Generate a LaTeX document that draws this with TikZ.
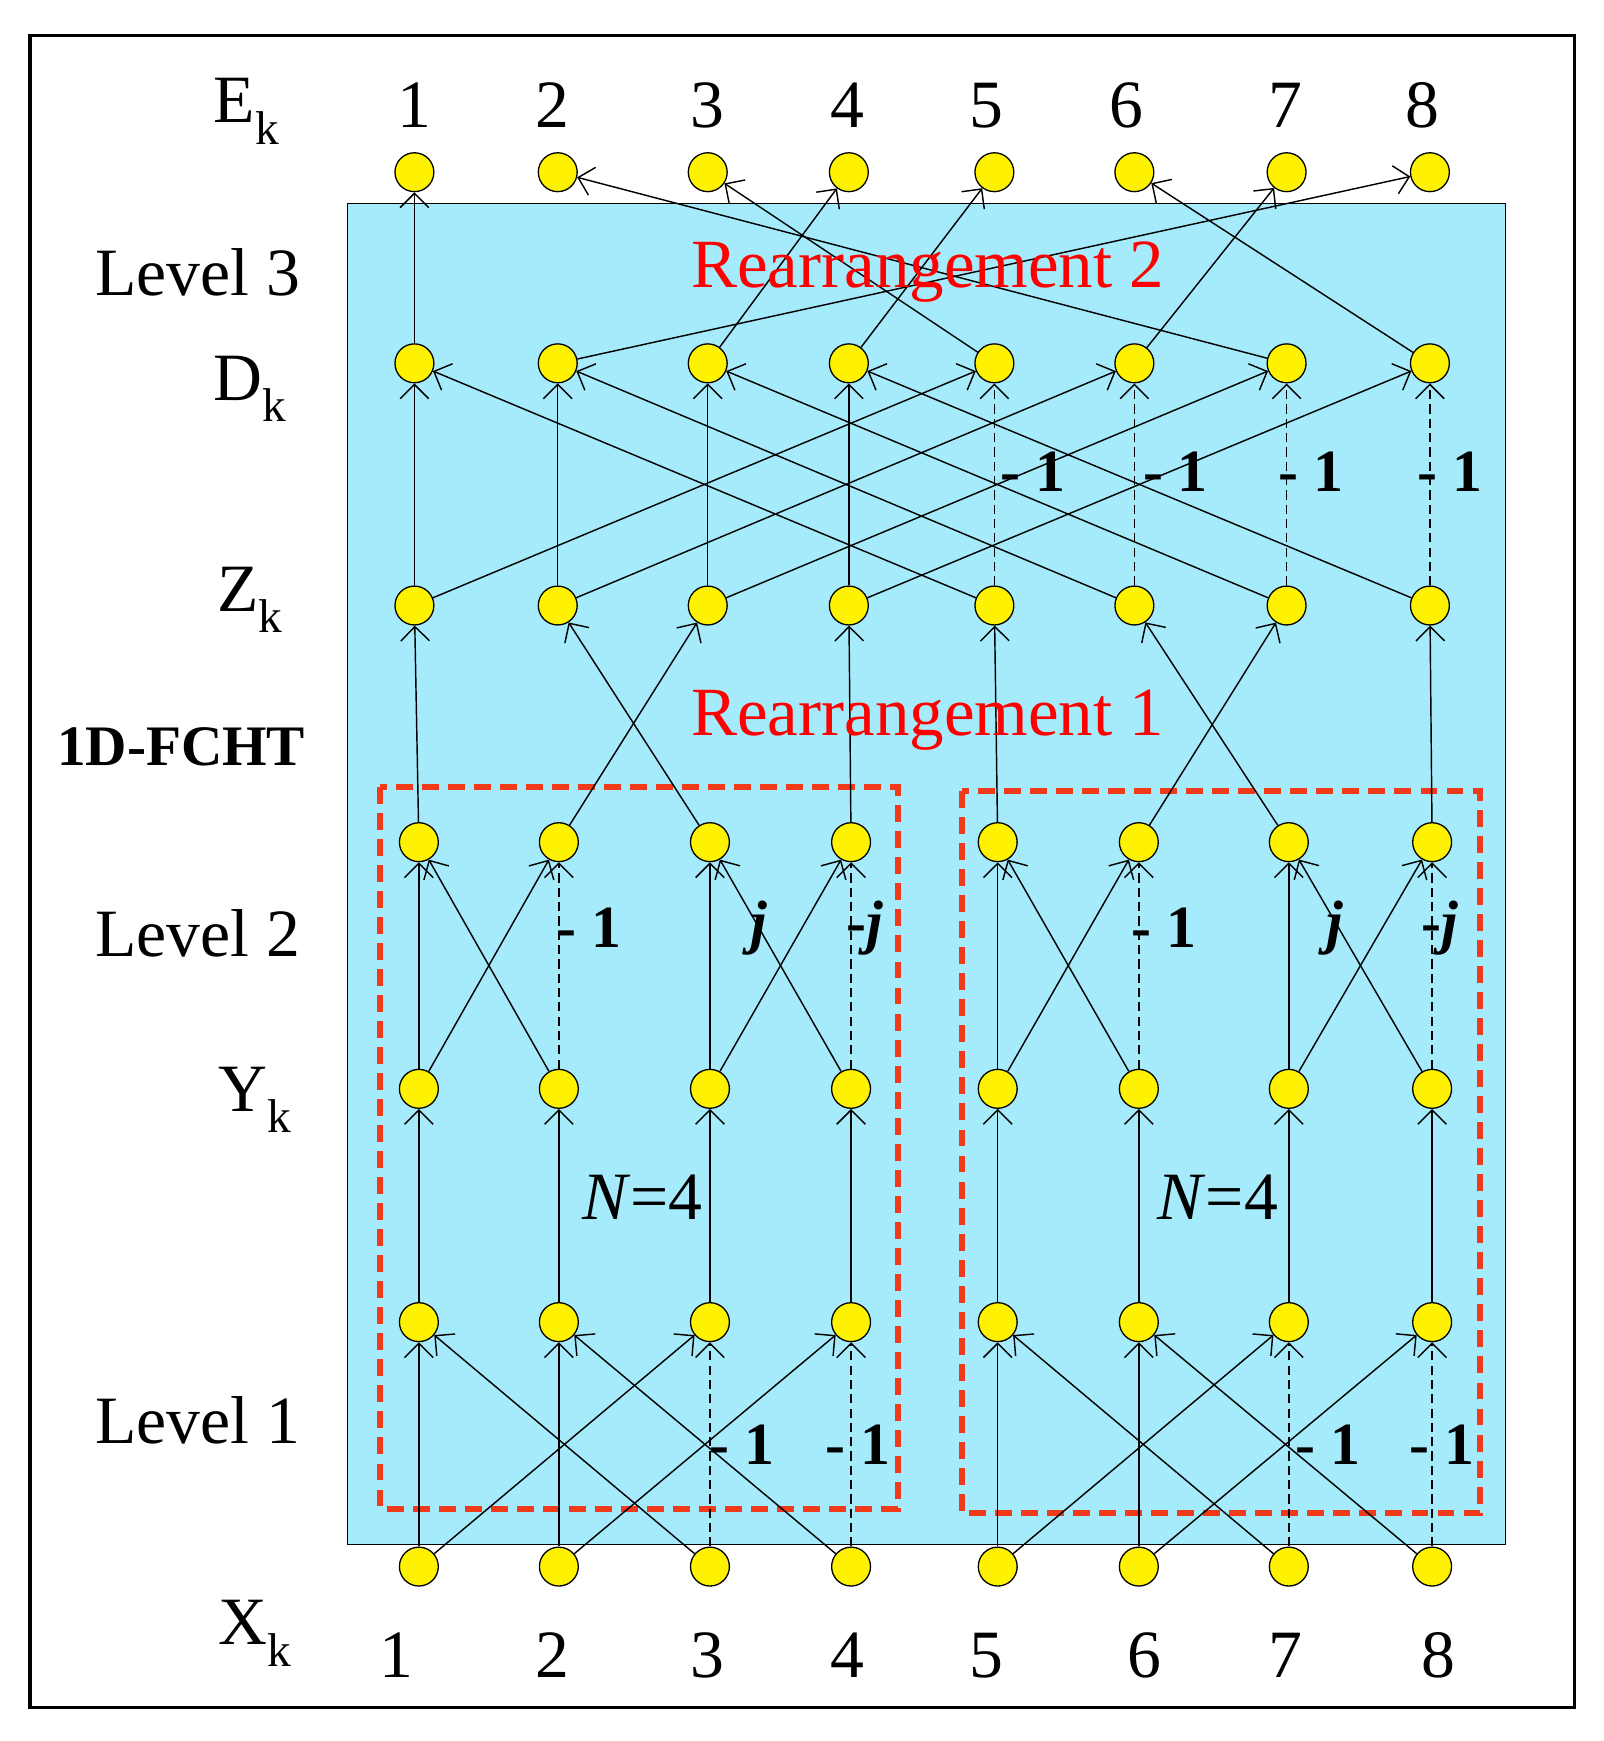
\documentclass[tikz,border=0pt]{standalone}
\usepackage{fontspec}
\setmainfont{Liberation Serif}
\usetikzlibrary{arrows.meta}
\definecolor{bluebg}{HTML}{A6EBFB}
\definecolor{redd}{HTML}{F03A1A}
\definecolor{nodey}{HTML}{FFF200}
\begin{document}
\begin{tikzpicture}[x=0.03cm,y=-0.03cm,
  pt/.style={circle,draw=black,fill=nodey,line width=1pt,inner sep=0pt,minimum size=1.05cm},
  ar/.style={line width=1.1pt,-{Straight Barb[length=11pt,width=22pt,line width=1.1pt]}},
  da/.style={ar,dash pattern=on 7pt off 4pt},
  lab/.style={font=\fontsize{52}{56}\selectfont},
  el/.style={font=\fontsize{46}{50}\selectfont\bfseries},
  rt/.style={font=\fontsize{53}{57}\selectfont,text=red}]
\useasboundingbox (0,0) rectangle (1443,1567);
\draw[line width=2.5pt] (27,32) rectangle (1417,1537);
\draw[fill=bluebg,line width=1pt] (313,183) rectangle (1355,1390);
\draw[redd,line width=4.5pt,dash pattern=on 13pt off 7pt] (342,708) rectangle (808,1358);
\draw[redd,line width=4.5pt,dash pattern=on 13pt off 7pt] (866,712) rectangle (1332,1362);
% nodes
\foreach \x [count=\i] in {373,502,637,764,895,1021,1158,1287}{
  \node[pt] (e\i) at (\x,155) {};
  \node[pt] (d\i) at (\x,327) {};
  \node[pt] (z\i) at (\x,545) {};
}
\foreach \x [count=\i] in {377,503,639,766,898,1025,1160,1289}{
  \node[pt] (u\i) at (\x,758) {};
  \node[pt] (y\i) at (\x,980) {};
  \node[pt] (v\i) at (\x,1190) {};
  \node[pt] (x\i) at (\x,1410) {};
}
% level 1
\foreach \g in {0,4}{
  \foreach \a/\b/\c in {1/1/3,2/2/4}{
    \pgfmathtruncatemacro\A{\g+\a}\pgfmathtruncatemacro\B{\g+\b}\pgfmathtruncatemacro\C{\g+\c}
    \draw[ar] (x\B) -- (v\A); \draw[ar] (x\C) -- (v\A);
    \draw[ar] (x\B) -- (v\C); \draw[da] (x\C) -- (v\C);
  }
  \foreach \a/\b in {1/2,3/4}{
    \pgfmathtruncatemacro\A{\g+\a}\pgfmathtruncatemacro\B{\g+\b}
    \draw[ar] (y\A) -- (u\A); \draw[ar] (y\B) -- (u\A);
    \draw[ar] (y\A) -- (u\B); \draw[da] (y\B) -- (u\B);
  }
}
\foreach \i in {1,...,8}{\draw[ar] (v\i) -- (y\i);}
% rearrangement 1
\foreach \s/\t in {1/1,2/3,3/2,4/4,5/5,6/7,7/6,8/8}{\draw[ar] (u\s) -- (z\t);}
% level 3
\foreach \i in {1,...,4}{
  \pgfmathtruncatemacro\J{\i+4}
  \draw[ar] (z\i) -- (d\i); \draw[ar] (z\J) -- (d\i);
  \draw[ar] (z\i) -- (d\J); \draw[da] (z\J) -- (d\J);
}
% rearrangement 2
\foreach \s/\t in {1/1,2/8,3/4,4/5,5/3,6/7,7/2,8/6}{\draw[ar] (d\s) -- (e\t);}
% labels
\foreach \x [count=\i] in {373,497,637,763,888,1014,1157,1280}{\node[lab] (te\i) at (\x,95) {\i};}
\foreach \x [count=\i] in {357,497,637,763,888,1030,1157,1295}{\node[lab] (tx\i) at (\x,1490) {\i};}
\node[lab] (lE) at (222,100) {E\textsubscript{k}};
\node[lab] (l3) at (178,245) {Level 3};
\node[lab] (lD) at (225,350) {D\textsubscript{k}};
\node[lab] (lZ) at (225,540) {Z\textsubscript{k}};
\node[font=\fontsize{44}{48}\selectfont\bfseries] (lF) at (163,672) {1D-FCHT};
\node[lab] (l2) at (178,840) {Level 2};
\node[lab] (lY) at (230,990) {Y\textsubscript{k}};
\node[lab] (l1) at (178,1278) {Level 1};
\node[lab] (lX) at (230,1470) {X\textsubscript{k}};
\node[rt] (r2) at (835,245) {Rearrangement 2};
\node[rt] (r1) at (835,648) {Rearrangement 1};
\foreach \x in {930,1058,1180,1305}{\node[el] at (\x,425) {- 1};}
\foreach \o in {0,518}{
  \node[el] at (530+\o,835) {- 1};
  \node[el] at (683+\o,835) {\itshape j};
  \node[el] at (778+\o,835) {-\itshape j};
  \node[lab] at (578+\o,1078) {\textit{N}=4};
}
\foreach \x in {668,772,1195,1298}{\node[el] at (\x,1300) {- 1};}
\end{tikzpicture}
\end{document}
